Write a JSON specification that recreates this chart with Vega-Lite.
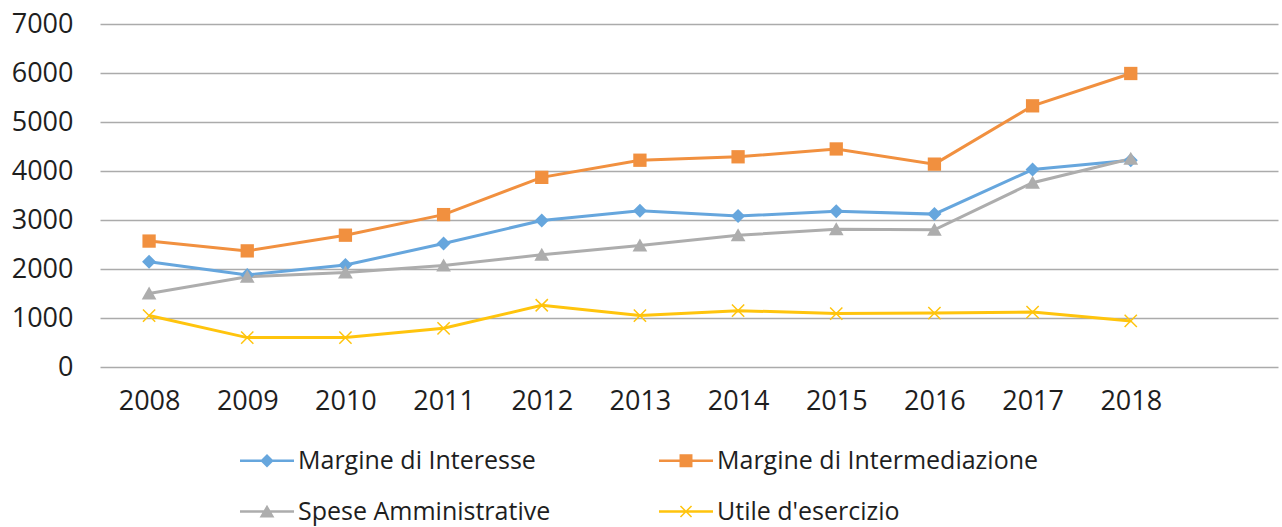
{
  "$schema": "https://vega.github.io/schema/vega-lite/v6.json",
  "width": 1178,
  "height": 343,
  "autosize": "none",
  "padding": {"left": 100, "top": 24, "right": 4, "bottom": 160},
  "background": "white",
  "config": {
    "view": {"stroke": null},
    "font": "Open Sans",
    "axis": {"labelFont": "Open Sans", "labelColor": "#1e1e1e", "labelFontSize": 27}
  },
  "data": {
    "values": [
      {"anno": 2008, "serie": "Margine di Interesse", "valore": 2150},
      {"anno": 2009, "serie": "Margine di Interesse", "valore": 1880},
      {"anno": 2010, "serie": "Margine di Interesse", "valore": 2080},
      {"anno": 2011, "serie": "Margine di Interesse", "valore": 2520},
      {"anno": 2012, "serie": "Margine di Interesse", "valore": 2990},
      {"anno": 2013, "serie": "Margine di Interesse", "valore": 3190},
      {"anno": 2014, "serie": "Margine di Interesse", "valore": 3080},
      {"anno": 2015, "serie": "Margine di Interesse", "valore": 3180},
      {"anno": 2016, "serie": "Margine di Interesse", "valore": 3120},
      {"anno": 2017, "serie": "Margine di Interesse", "valore": 4030},
      {"anno": 2018, "serie": "Margine di Interesse", "valore": 4220},
      {"anno": 2008, "serie": "Margine di Intermediazione", "valore": 2570},
      {"anno": 2009, "serie": "Margine di Intermediazione", "valore": 2370},
      {"anno": 2010, "serie": "Margine di Intermediazione", "valore": 2690},
      {"anno": 2011, "serie": "Margine di Intermediazione", "valore": 3110},
      {"anno": 2012, "serie": "Margine di Intermediazione", "valore": 3870},
      {"anno": 2013, "serie": "Margine di Intermediazione", "valore": 4220},
      {"anno": 2014, "serie": "Margine di Intermediazione", "valore": 4290},
      {"anno": 2015, "serie": "Margine di Intermediazione", "valore": 4450},
      {"anno": 2016, "serie": "Margine di Intermediazione", "valore": 4140},
      {"anno": 2017, "serie": "Margine di Intermediazione", "valore": 5330},
      {"anno": 2018, "serie": "Margine di Intermediazione", "valore": 5990},
      {"anno": 2008, "serie": "Spese Amministrative", "valore": 1500},
      {"anno": 2009, "serie": "Spese Amministrative", "valore": 1840},
      {"anno": 2010, "serie": "Spese Amministrative", "valore": 1930},
      {"anno": 2011, "serie": "Spese Amministrative", "valore": 2070},
      {"anno": 2012, "serie": "Spese Amministrative", "valore": 2290},
      {"anno": 2013, "serie": "Spese Amministrative", "valore": 2480},
      {"anno": 2014, "serie": "Spese Amministrative", "valore": 2690},
      {"anno": 2015, "serie": "Spese Amministrative", "valore": 2810},
      {"anno": 2016, "serie": "Spese Amministrative", "valore": 2800},
      {"anno": 2017, "serie": "Spese Amministrative", "valore": 3760},
      {"anno": 2018, "serie": "Spese Amministrative", "valore": 4250},
      {"anno": 2008, "serie": "Utile d'esercizio", "valore": 1050},
      {"anno": 2009, "serie": "Utile d'esercizio", "valore": 600},
      {"anno": 2010, "serie": "Utile d'esercizio", "valore": 600},
      {"anno": 2011, "serie": "Utile d'esercizio", "valore": 790},
      {"anno": 2012, "serie": "Utile d'esercizio", "valore": 1260},
      {"anno": 2013, "serie": "Utile d'esercizio", "valore": 1050},
      {"anno": 2014, "serie": "Utile d'esercizio", "valore": 1150},
      {"anno": 2015, "serie": "Utile d'esercizio", "valore": 1090},
      {"anno": 2016, "serie": "Utile d'esercizio", "valore": 1100},
      {"anno": 2017, "serie": "Utile d'esercizio", "valore": 1120},
      {"anno": 2018, "serie": "Utile d'esercizio", "valore": 940}
    ]
  },
  "encoding": {
    "x": {
      "field": "anno",
      "type": "quantitative",
      "scale": {"domain": [2007.5, 2019.5], "nice": false, "zero": false},
      "axis": {
        "title": null,
        "values": [2008, 2009, 2010, 2011, 2012, 2013, 2014, 2015, 2016, 2017, 2018],
        "format": "d",
        "grid": false,
        "domain": false,
        "ticks": false,
        "labelPadding": 21,
        "labelFlush": false
      }
    },
    "y": {
      "field": "valore",
      "type": "quantitative",
      "scale": {"domain": [0, 7000], "nice": false},
      "axis": {
        "title": null,
        "values": [0, 1000, 2000, 3000, 4000, 5000, 6000, 7000],
        "format": "d",
        "grid": true,
        "gridColor": "#ababab",
        "gridWidth": 1.3,
        "domain": false,
        "ticks": false,
        "labelPadding": 27
      }
    }
  },
  "layer": [
    {
      "mark": {"type": "line", "strokeWidth": 3},
      "encoding": {
        "color": {
          "field": "serie",
          "type": "nominal",
          "scale": {
            "domain": ["Margine di Interesse", "Spese Amministrative", "Margine di Intermediazione", "Utile d'esercizio"],
            "range": ["#66a6dd", "#adadad", "#f1903f", "#ffc40d"]
          },
          "legend": {
            "title": null,
            "orient": "none",
            "legendX": 140,
            "legendY": 423,
            "columns": 2,
            "columnPadding": 108,
            "rowPadding": 24,
            "symbolSize": 729,
            "symbolStrokeWidth": 0,
            "symbolOpacity": 1,
            "labelOffset": 31,
            "labelFont": "Open Sans",
            "labelFontSize": 25,
            "labelColor": "#1e1e1e",
            "labelLimit": 600
          }
        }
      }
    },
    {
      "transform": [{"filter": "datum.serie === 'Margine di Interesse'"}],
      "mark": {"type": "point", "filled": true, "opacity": 1, "strokeWidth": 0, "size": 196, "color": "#66a6dd", "shape": "M0,-1L1,0L0,1L-1,0Z"}
    },
    {
      "transform": [{"filter": "datum.serie === 'Margine di Intermediazione'"}],
      "mark": {"type": "point", "filled": true, "opacity": 1, "strokeWidth": 0, "size": 196, "color": "#f1903f", "shape": "M-0.95,-0.95L0.95,-0.95L0.95,0.95L-0.95,0.95Z"}
    },
    {
      "transform": [{"filter": "datum.serie === 'Spese Amministrative'"}],
      "mark": {"type": "point", "filled": true, "opacity": 1, "strokeWidth": 0, "size": 196, "color": "#adadad", "shape": "M0,-1L1.05,0.85L-1.05,0.85Z"}
    },
    {
      "transform": [{"filter": "datum.serie === \"Utile d'esercizio\""}],
      "mark": {"type": "point", "filled": true, "opacity": 1, "strokeWidth": 0, "size": 196, "color": "#ffc40d", "shape": "M-0.95,-0.8L-0.8,-0.95L0.95,0.8L0.8,0.95ZM0.8,-0.95L0.95,-0.8L-0.8,0.95L-0.95,0.8Z"}
    },
    {
      "mark": {"type": "point", "filled": true, "opacity": 1, "strokeWidth": 0, "size": 0},
      "encoding": {
        "color": {
          "field": "serie",
          "type": "nominal",
          "scale": {
            "domain": ["Margine di Interesse", "Spese Amministrative", "Margine di Intermediazione", "Utile d'esercizio"],
            "range": ["#66a6dd", "#adadad", "#f1903f", "#ffc40d"]
          },
          "legend": {
            "title": null,
            "orient": "none",
            "legendX": 140,
            "legendY": 423,
            "columns": 2,
            "columnPadding": 108,
            "rowPadding": 24,
            "symbolSize": 729,
            "symbolStrokeWidth": 0,
            "symbolOpacity": 1,
            "labelOffset": 31,
            "labelFont": "Open Sans",
            "labelFontSize": 25,
            "labelColor": "#1e1e1e",
            "labelLimit": 600
          }
        },
        "shape": {
          "field": "serie",
          "type": "nominal",
          "scale": {
            "domain": ["Margine di Interesse", "Spese Amministrative", "Margine di Intermediazione", "Utile d'esercizio"],
            "range": [
              "M-1,-0.1L3,-0.1L3,0.1L-1,0.1ZM1,-0.5L1.5,0L1,0.5L0.5,0Z",
              "M-1,-0.1L3,-0.1L3,0.1L-1,0.1ZM1,-0.5L1.55,0.45L0.45,0.45Z",
              "M-1,-0.1L3,-0.1L3,0.1L-1,0.1ZM0.52,-0.48L1.48,-0.48L1.48,0.48L0.52,0.48Z",
              "M-1,-0.1L3,-0.1L3,0.1L-1,0.1ZM0.55,-0.37L0.63,-0.45L1.45,0.37L1.37,0.45ZM1.37,-0.45L1.45,-0.37L0.63,0.45L0.55,0.37Z"
            ]
          },
          "legend": {
            "title": null,
            "orient": "none",
            "legendX": 140,
            "legendY": 423,
            "columns": 2,
            "columnPadding": 108,
            "rowPadding": 24,
            "symbolSize": 729,
            "symbolStrokeWidth": 0,
            "symbolOpacity": 1,
            "labelOffset": 31,
            "labelFont": "Open Sans",
            "labelFontSize": 25,
            "labelColor": "#1e1e1e",
            "labelLimit": 600
          }
        }
      }
    }
  ]
}
